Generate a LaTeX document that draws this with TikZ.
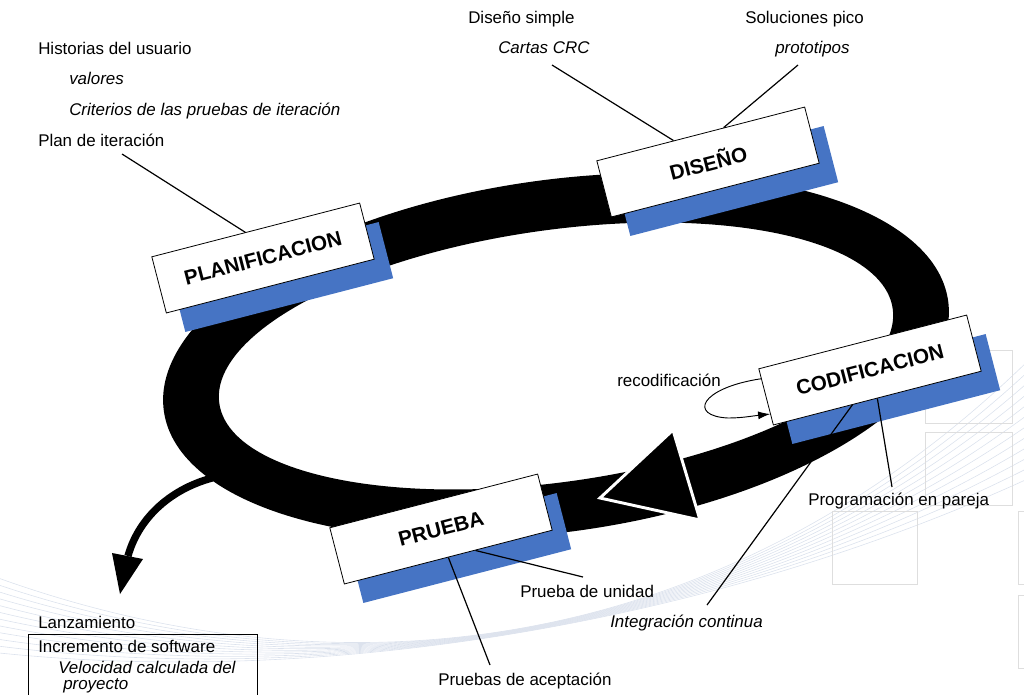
\documentclass[tikz,border=0pt]{standalone}
\usepackage{fontspec}
\setmainfont{Liberation Sans}
\usetikzlibrary{calc,arrows.meta}
\definecolor{xpblue}{RGB}{70,116,196}
\definecolor{swooshc}{RGB}{220,226,237}
\definecolor{sqgray}{RGB}{222,222,222}
\begin{document}
\begin{tikzpicture}[x=0.75pt,y=-0.75pt,
  lbl/.style={font=\fontsize{12.7}{15}\selectfont, inner sep=0pt, anchor=base west},
  ilbl/.style={lbl, font=\fontsize{12.7}{15}\selectfont\itshape},
  phase/.style={draw=black, fill=white, line width=0.6pt, minimum width=161pt, minimum height=43.5pt,
    rotate=14.5, font=\fontsize{15.5}{18}\selectfont\bfseries, inner sep=0pt},
  phaseshadow/.style={fill=xpblue, minimum width=161pt, minimum height=43.5pt, rotate=14.5, inner sep=0pt},
  conn/.style={line width=0.9pt},
  swooshline/.style={draw=swooshc, line width=0.45pt},
  sq/.style={draw=sqgray, line width=0.6pt}]
\useasboundingbox (0,0) rectangle (1024,694);

% faint background decoration
\foreach \k in {0,...,11} {
  \draw[swooshline] (-10,575+\k*7) .. controls (330,700-\k*1) and (720,665-\k*4) .. (1034,355+\k*11);
}
\draw[sq] (925,350) rectangle (1012,423);
\draw[sq] (925,432) rectangle (1012,505);
\draw[sq] (832,511) rectangle (917,584);
\draw[sq] (1018,511) rectangle (1030,584);
\draw[sq] (1018,595) rectangle (1030,668);

% the cycle ring
\fill[black, even odd rule, shift={(556,356)}, rotate=8]
  (0,0) ellipse [x radius=396, y radius=176]
  (0,0) ellipse [x radius=340, y radius=126];

% release arrow
\coordinate (lzs) at (212,478);
\coordinate (lze) at (128,556);
\draw[line width=5.5pt] (lzs) .. controls (168,490) and (138,520) .. (lze);
\fill (112,553) -- (143,559) -- (120,594) -- cycle;

% big arrowhead on the ring
\filldraw[fill=black, draw=white, line width=2.2pt, line join=miter]
  (600,498) -- (673,430) -- (700,520) -- cycle;

% phase boxes with shadows
\node[phaseshadow] (plansh) at (282,277) {};
\node[phase] (plan) at (263,258) {PLANIFICACION};
\node[phaseshadow] (dissh) at (727,181) {};
\node[phase] (dis) at (708,162) {DISEÑO};
\node[phaseshadow] (codsh) at (889,389) {};
\node[phase] (cod) at (870,370) {CODIFICACION};
\node[phaseshadow] (prush) at (460,548) {};
\node[phase] (pru) at (441,529) {PRUEBA};

% labels
\node[lbl] (hist) at (38,54) {Historias del usuario};
\node[ilbl] (val) at (69,84) {valores};
\node[ilbl] (crit) at (69,115) {Criterios de las pruebas de iteración};
\node[lbl] (planit) at (38,146) {Plan de iteración};
\node[lbl] (dsimple) at (468,23) {Diseño simple};
\node[ilbl] (crc) at (498,53) {Cartas CRC};
\node[lbl] (solpico) at (745,23) {Soluciones pico};
\node[ilbl] (proto) at (775,53) {prototipos};
\node[lbl] (recod) at (617,386) {recodificación};
\node[lbl] (pareja) at (808,505) {Programación en pareja};
\node[lbl] (unidad) at (520,597) {Prueba de unidad};
\node[ilbl] (integ) at (610,627) {Integración continua};
\node[lbl] (acept) at (438,685) {Pruebas de aceptación};
\node[lbl] (lanz) at (38,628) {Lanzamiento};
\node[draw=black, line width=0.6pt, anchor=north west, minimum width=171.75pt, minimum height=52.5pt, inner sep=0pt] (lzbox) at (28,634) {};
\node[lbl] (incr) at (38,652) {Incremento de software};
\node[ilbl] (veloc) at (58,673) {Velocidad calculada del};
\node[ilbl] (proy) at (63,689) {proyecto};

% connector ends
\coordinate (cplan) at (122,154);
\coordinate (ccrc) at (552,65);
\coordinate (cproto) at (798,65);
\coordinate (cpar) at (892,487);
\coordinate (cint) at (707,605);
\coordinate (cuni) at (583,577);
\coordinate (cace) at (490,665);

\draw[conn] (cplan) -- ($(plan.north west)!0.45!(plan.north east)$);
\draw[conn] (ccrc) -- ($(dis.north west)!0.37!(dis.north east)$);
\draw[conn] (cproto) -- ($(dis.north west)!0.61!(dis.north east)$);
\draw[conn] ($(cod.south west)!0.5!(cod.south east)$) -- (cpar);
\draw[conn] ($(cod.south west)!0.38!(cod.south east)$) -- (cint);
\draw[conn] ($(pru.south west)!0.63!(pru.south east)$) -- (cuni);
\draw[conn] ($(pru.south west)!0.5!(pru.south east)$) -- (cace);

% recodificacion loop
\draw[line width=0.7pt, -{Latex[length=9pt,width=6pt]}]
  ($(cod.north west)!0.18!(cod.south west)$) .. controls (700,388) and (688,416) .. (728,418)
  .. controls (742,418) and (752,416) .. ($(cod.north west)!0.8!(cod.south west)$);
\end{tikzpicture}
\end{document}
